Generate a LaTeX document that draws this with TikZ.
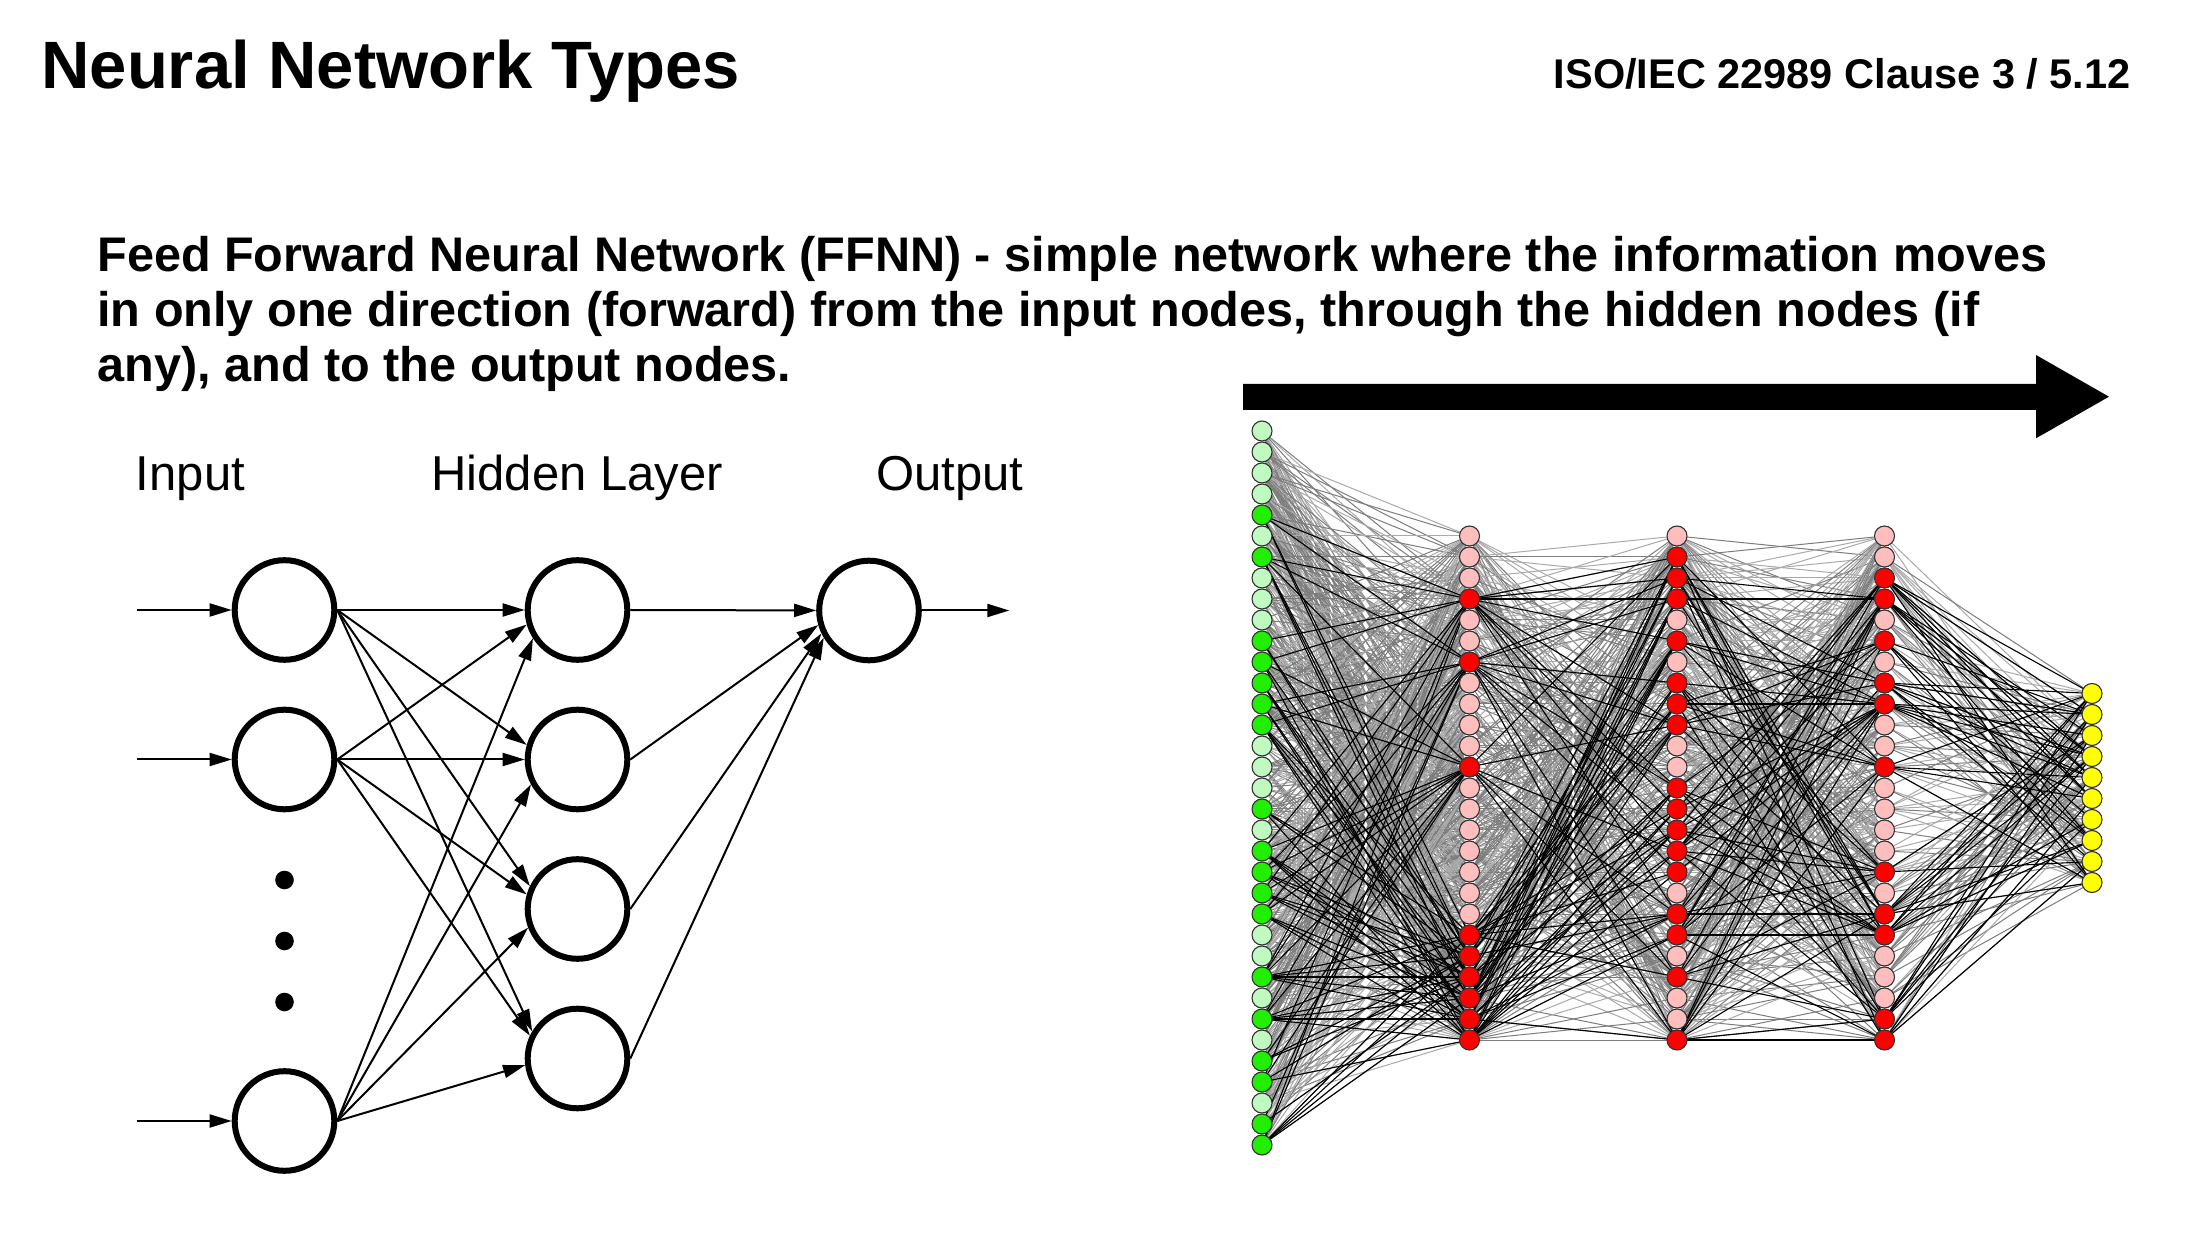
\documentclass[tikz,border=0pt]{standalone}
\usepackage{fontspec}
\setmainfont{Liberation Sans}
\usetikzlibrary{arrows.meta,calc}
\pgfdeclarelayer{bg}
\pgfdeclarelayer{gl}
\pgfdeclarelayer{bl}
\pgfsetlayers{bg,gl,bl,main}
\definecolor{lgreen}{RGB}{192,250,192}
\definecolor{dgreen}{RGB}{34,238,0}
\definecolor{lpink}{RGB}{255,190,190}
\definecolor{dred}{RGB}{255,0,0}
\definecolor{yel}{RGB}{255,255,0}
\definecolor{edgeA}{RGB}{125,125,125}
\definecolor{edgeB}{RGB}{170,170,170}
\definecolor{nodeborder}{RGB}{50,50,50}
\tikzset{
  titletext/.style={anchor=base west,inner sep=0,font=\bfseries\fontsize{33.5}{40}\selectfont},
  cltext/.style={anchor=base east,inner sep=0,font=\bfseries\fontsize{20.75}{25}\selectfont},
  para/.style={anchor=base west,inner sep=0,font=\bfseries\fontsize{24.3}{28}\selectfont},
  lbl/.style={anchor=base west,inner sep=0,font=\fontsize{24.5}{29}\selectfont},
  bigc/.style={circle,draw,line width=3pt,minimum size=49.8pt,inner sep=0},
  dotn/.style={circle,fill,minimum size=9.3pt,inner sep=0},
  larrow/.style={line width=1pt,-{Triangle[length=11pt,width=6.5pt]}},
  nn/.style={circle,draw=nodeborder,line width=0.55pt,minimum size=10pt,inner sep=0},
  gedge/.style={line width=0.5pt},
  bedge/.style={line width=0.55pt,draw=black},
}
\newcommand\lnk[2]{\draw[larrow] let \p1=(#1.east), \p2=(#2.center),
  \n1={atan2(\y2-\y1,\x2-\x1)}, \n2={180+0.5*\n1} in
  (#1.east) -- ([shift={(\n2:26.4pt)}]#2.center);}
% activity arrays
\def\actI{{0,0,0,0,1,0,1,0,0,0,1,1,1,1,1,0,0,0,1,0,1,1,1,1,0,0,1,0,1,0,1,1,0,1,1}}
\def\actA{{0,0,0,1,0,0,1,0,0,0,0,1,0,0,0,0,0,0,0,1,1,1,1,1,1}}
\def\actB{{0,1,1,1,0,1,0,1,1,1,0,0,1,1,1,1,1,0,1,1,0,1,0,0,1}}
\def\actC{{0,0,1,1,0,1,0,1,1,0,0,1,0,0,0,0,1,0,1,1,0,0,0,1,1}}
\def\actO{{1,1,1,1,1,1,1,1,1,1}}
% #1 src prefix, #2 src max, #3 src array, #4 tgt prefix, #5 tgt max, #6 tgt array, #7 p gray, #8 p black
\newcommand\layeredges[8]{%
  \begin{pgfonlayer}{gl}
  \foreach \s in {0,...,#2}{\foreach \t in {0,...,#5}{%
    \pgfmathsetmacro\rv{rnd}%
    \ifdim\rv pt<#7pt
      \pgfmathsetmacro\qv{rnd}%
      \ifdim\qv pt<0.55pt \def\ec{edgeA}\else\def\ec{edgeB}\fi
      \draw[gedge,draw=\ec] (#1\s.center) -- (#4\t.center);
    \fi}}
  \end{pgfonlayer}
  \begin{pgfonlayer}{bl}
  \foreach \s in {0,...,#2}{%
    \pgfmathtruncatemacro\actS{#3[\s]}%
    \ifnum\actS=1
    \foreach \t in {0,...,#5}{%
      \pgfmathtruncatemacro\actT{#6[\t]}%
      \ifnum\actT=1
        \pgfmathsetmacro\rv{rnd}%
        \ifdim\rv pt<#8pt \draw[bedge] (#1\s.center) -- (#4\t.center);\fi
      \fi}%
    \fi}
  \end{pgfonlayer}}
\begin{document}
\begin{tikzpicture}[x=0.5pt,y=-0.5pt]
\pgfmathsetseed{20231}
\useasboundingbox (0,0) rectangle (2190,1234);
\begin{pgfonlayer}{bg}
\fill[white] (0,0) rectangle (2190,1234);
\end{pgfonlayer}
% titles
\node[titletext] (title) at (41,89) {Neural Network Types};
\node[cltext] (clause) at (2131,89) {ISO/IEC 22989 Clause 3 / 5.12};
\node[para] (p1) at (97,272) {Feed Forward Neural Network (FFNN) - simple network where the information moves};
\node[para] (p2) at (97,327) {in only one direction (forward) from the input nodes, through the hidden nodes (if};
\node[para] (p3) at (97,382) {any), and to the output nodes.};
% left diagram
\node[lbl] (lin) at (135.5,491) {Input};
\node[lbl] (lhid) at (431,491) {Hidden Layer};
\node[lbl] (lout) at (876,491) {Output};
\node[bigc] (L1) at (284.5,610) {};
\node[bigc] (L2) at (284.5,759.5) {};
\node[bigc] (L3) at (284.5,1121) {};
\node[dotn] (d1) at (284.5,880) {};
\node[dotn] (d2) at (284.5,941) {};
\node[dotn] (d3) at (284.5,1002) {};
\node[bigc] (H1) at (577.5,610) {};
\node[bigc] (H2) at (577.5,759.5) {};
\node[bigc] (H3) at (577.5,909) {};
\node[bigc] (H4) at (577.5,1058.5) {};
\node[bigc] (O) at (869,610.5) {};
\coordinate (s1) at (136.7,610);
\coordinate (s2) at (136.7,759.5);
\coordinate (s3) at (136.7,1121);
\coordinate (oe) at (1009.3,610.5);
\draw[larrow] (s1) -- (L1);
\draw[larrow] (s2) -- (L2);
\draw[larrow] (s3) -- (L3);
\foreach \a in {L1,L2,L3}{\foreach \b in {H1,H2,H3,H4}{\lnk{\a}{\b}}}
\foreach \b in {H1,H2,H3,H4}{\lnk{\b}{O}}
\draw[larrow] (O.east) -- (oe);
% big arrow
\fill (1243,384) -- (2036,384) -- (2036,355) -- (2109,396.7) -- (2036,438.3) -- (2036,410) -- (1243,410) -- cycle;
% right network nodes
\foreach \k in {0,...,34}{%
  \pgfmathtruncatemacro\av{\actI[\k]}%
  \ifnum\av=1 \def\fc{dgreen}\else\def\fc{lgreen}\fi
  \node[nn,fill=\fc] (i\k) at (1262,{788+(\k-17)*21}) {};}
\foreach \k in {0,...,24}{%
  \pgfmathtruncatemacro\av{\actA[\k]}%
  \ifnum\av=1 \def\fc{dred}\else\def\fc{lpink}\fi
  \node[nn,fill=\fc] (a\k) at (1469.5,{788+(\k-12)*21}) {};
  \pgfmathtruncatemacro\av{\actB[\k]}%
  \ifnum\av=1 \def\fc{dred}\else\def\fc{lpink}\fi
  \node[nn,fill=\fc] (b\k) at (1677,{788+(\k-12)*21}) {};
  \pgfmathtruncatemacro\av{\actC[\k]}%
  \ifnum\av=1 \def\fc{dred}\else\def\fc{lpink}\fi
  \node[nn,fill=\fc] (c\k) at (1884.5,{788+(\k-12)*21}) {};}
\foreach \k in {0,...,9}{%
  \node[nn,fill=yel] (o\k) at (2092,{788+(\k-4.5)*21}) {};}
% edges
\layeredges{i}{34}{\actI}{a}{24}{\actA}{0.6}{0.5}
\layeredges{a}{24}{\actA}{b}{24}{\actB}{0.55}{0.45}
\layeredges{b}{24}{\actB}{c}{24}{\actC}{0.55}{0.42}
\layeredges{c}{24}{\actC}{o}{9}{\actO}{0.45}{0.5}
\end{tikzpicture}
\end{document}
